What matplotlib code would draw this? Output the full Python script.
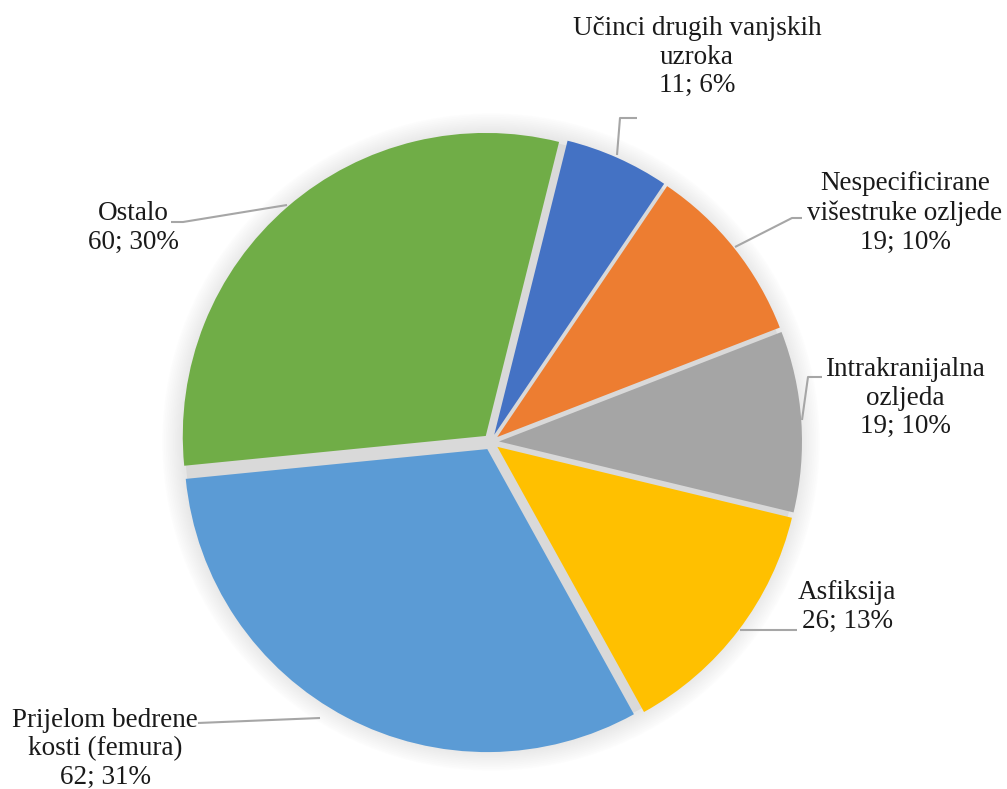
import numpy as np
import matplotlib.pyplot as plt

labels = ["Učinci drugih vanjskih\nuzroka", "Nespecificirane\nvišestruke ozljede",
          "Intrakranijalna\nozljeda", "Asfiksija", "Prijelom bedrene\nkosti (femura)", "Ostalo"]
counts = [11, 19, 19, 26, 62, 60]
colors = ["#4472C4", "#ED7D31", "#A5A5A5", "#FFC000", "#5B9BD5", "#70AD47"]

W, H = 1007, 789
plt.rcParams['font.family'] = ['Liberation Serif', 'DejaVu Serif']

fig = plt.figure(figsize=(W / 100, H / 100), dpi=100)
ax = fig.add_axes([0, 0, 1, 1])

def Y(y):  # image row -> data y
    return H - y

cx, cy = 491, Y(442)
R = 303
ex = 8  # explode offset, data units (px)

# soft grey shadow behind the exploded slices
for k in range(12, 0, -1):
    ax.add_patch(plt.Circle((cx, cy), R + 4 + k * 1.8, color="#d0d0d0", alpha=0.045, lw=0, zorder=0))
ax.add_patch(plt.Circle((cx, cy), R + 3, color="#d9d9d9", lw=0, zorder=1))

wedges, _ = ax.pie(counts, colors=colors, startangle=76, counterclock=False,
                   explode=[ex] * len(counts), radius=R, center=(cx, cy),
                   wedgeprops=dict(linewidth=0, zorder=2), frame=True)
ax.set_xlim(0, W)
ax.set_ylim(0, H)
ax.set_aspect('equal')
ax.axis('off')

total = sum(counts)
texts = [f"{l}\n{v}; {round(v / total * 100)}%" for l, v in zip(labels, counts)]

# label centres (image px) and leader lines
label_pos = [(697, 57), (905, 213), (905, 398), (847, 607), (105, 749), (133, 228)]
leaders = [
    [(617, 155), (620, 118), (637, 118)],
    [(735, 247), (792, 218), (802, 218)],
    [(802, 420), (808, 377), (822, 377)],
    [(740, 630), (797, 630)],
    [(320, 718), (198, 723)],
    [(287, 205), (183, 222), (171, 222)],
]

for t, (x, y) in zip(texts, label_pos):
    ax.text(x, Y(y), t, ha='center', va='center', fontsize=19.5, color="#1a1a1a",
            linespacing=1.2, zorder=5)

for pts in leaders:
    xs = [p[0] for p in pts]
    ys = [Y(p[1]) for p in pts]
    ax.plot(xs, ys, color="#a6a6a6", lw=1.5, zorder=4, solid_capstyle='butt')

fig.savefig("out.png", dpi=100, facecolor="white")
